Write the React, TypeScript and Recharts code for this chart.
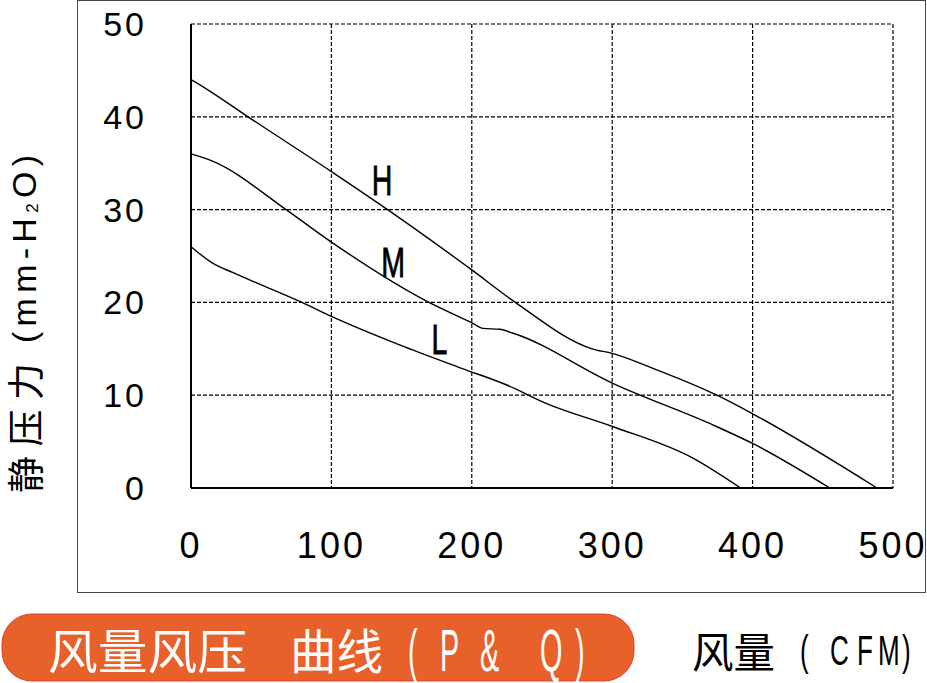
import React from "react";
import { LineChart, Line, XAxis, YAxis, CartesianGrid, ReferenceDot } from "recharts";

// 风量 (CFM) vs 静压力 (mm-H2O)
const hCurve = [
  { cfm: 0, p: 44 },
  { cfm: 10, p: 43.1 },
  { cfm: 40.6, p: 40 },
  { cfm: 100, p: 34.1 },
  { cfm: 140, p: 30 },
  { cfm: 200, p: 23.5 },
  { cfm: 231, p: 20 },
  { cfm: 285.6, p: 15.0 },
  { cfm: 300, p: 14.5 },
  { cfm: 329, p: 12.9 },
  { cfm: 374.6, p: 10 },
  { cfm: 400, p: 8.0 },
  { cfm: 488.6, p: 0 },
];

const mCurve = [
  { cfm: 0, p: 36 },
  { cfm: 15.7, p: 35.2 },
  { cfm: 67.7, p: 30 },
  { cfm: 100, p: 26.5 },
  { cfm: 169.5, p: 20 },
  { cfm: 200, p: 17.8 },
  { cfm: 208, p: 17.2 },
  { cfm: 220, p: 17.1 },
  { cfm: 229, p: 16.7 },
  { cfm: 300, p: 11.3 },
  { cfm: 374.6, p: 6.6 },
  { cfm: 400, p: 4.8 },
  { cfm: 455, p: 0 },
];

const lCurve = [
  { cfm: 0, p: 26 },
  { cfm: 15.7, p: 24.2 },
  { cfm: 30, p: 23.2 },
  { cfm: 79, p: 20 },
  { cfm: 100, p: 18.5 },
  { cfm: 149, p: 15.4 },
  { cfm: 192.8, p: 12.9 },
  { cfm: 224.9, p: 11.1 },
  { cfm: 253.3, p: 9.1 },
  { cfm: 300.8, p: 6.6 },
  { cfm: 357.8, p: 3.2 },
  { cfm: 391.5, p: 0 },
];

const xTicks = [0, 100, 200, 300, 400, 500];
const yTicks = [0, 10, 20, 30, 40, 50];

// curve names and where they sit
const curveLabels = [
  { name: "H", cfm: 136, p: 33.2 },
  { name: "M", cfm: 144, p: 24.3 },
  { name: "L", cfm: 177, p: 16 },
];

const latin = "'Liberation Sans', Arial, sans-serif";
const cjk = "'Noto Sans CJK SC', sans-serif";

// the sheet uses a narrow face for latin letters, so squeeze them
const pillLatin: [string, number][] = [
  ["(", 408],
  ["P", 440],
  ["&", 480],
  ["Q", 540],
  [")", 575],
];
const unitLatin: [string, number][] = [
  ["(", 800],
  ["C", 830],
  ["F", 857],
  ["M", 878],
  [")", 902],
];

const Narrow = ({ chars, y, size, sx, fill }: { chars: [string, number][]; y: number; size: number; sx: number; fill: string }) => (
  <g>
    {chars.map(([c, x], i) => (
      <text
        key={i}
        transform={`translate(${x},${y}) scale(${sx},1)`}
        fontFamily={latin}
        fontSize={size}
        fill={fill}
        dominantBaseline="central"
      >
        {c}
      </text>
    ))}
  </g>
);

const labelText = (name: string) => (p: any) => (
  <text
    transform={`translate(${p.cx},${p.cy}) scale(0.68,1)`}
    textAnchor="middle"
    dominantBaseline="central"
    fontFamily={latin}
    fontSize={42}
    stroke="#000"
    strokeWidth={0.8}
    fill="#000"
  >
    {name}
  </text>
);

export default function App() {
  return (
    <div style={{ position: "absolute", left: 0, top: 0, width: 927, height: 683, background: "#fff" }}>
      {/* outer frame */}
      <div
        style={{
          position: "absolute",
          left: 77,
          top: 0,
          width: 847,
          height: 591,
          border: "1.5px solid #444",
        }}
      />

      <div style={{ position: "absolute", left: 0, top: 0 }}>
        <LineChart width={927} height={600} margin={{ top: 24, right: 34, left: 0, bottom: 12 }}>
          <CartesianGrid stroke="#000" strokeDasharray="4 2" strokeWidth={1.2} />
          <XAxis
            type="number"
            dataKey="cfm"
            domain={[0, 500]}
            ticks={xTicks}
            height={100}
            tickSize={0}
            tickMargin={44}
            axisLine={{ stroke: "#000", strokeWidth: 2 }}
            tick={{ fill: "#000", fontSize: 36, fontFamily: latin, letterSpacing: 3 }}
          />
          <YAxis
            type="number"
            dataKey="p"
            domain={[0, 50]}
            ticks={yTicks}
            width={191}
            tickSize={0}
            tickMargin={44}
            axisLine={{ stroke: "#000", strokeWidth: 2 }}
            tick={{ fill: "#000", fontSize: 34, fontFamily: latin, letterSpacing: 3 }}
          />
          <Line data={hCurve} dataKey="p" type="monotone" stroke="#000" strokeWidth={1.4} dot={false} isAnimationActive={false} />
          <Line data={mCurve} dataKey="p" type="monotone" stroke="#000" strokeWidth={1.4} dot={false} isAnimationActive={false} />
          <Line data={lCurve} dataKey="p" type="monotone" stroke="#000" strokeWidth={1.4} dot={false} isAnimationActive={false} />
          {curveLabels.map((c) => (
            <ReferenceDot key={c.name} x={c.cfm} y={c.p} r={0} shape={labelText(c.name)} />
          ))}
        </LineChart>
      </div>

      {/* titles */}
      <svg width={927} height={683} style={{ position: "absolute", left: 0, top: 0 }}>
        <g transform="translate(24,493) rotate(-90)">
          <text x={0} y={0} fontFamily={cjk} fontSize={37} textLength={130} lengthAdjust="spacing" dominantBaseline="central" fill="#000">
            静压力
          </text>
          <text x={150} y={0} fontFamily={latin} fontSize={34} textLength={188} lengthAdjust="spacing" dominantBaseline="central" fill="#000">
            (mm-H
            <tspan fontSize={17} dy={8}>2</tspan>
            <tspan dy={-8}>O)</tspan>
          </text>
        </g>

        <rect x={2} y={614} width={632} height={67} rx={30} fill="#E8612A" stroke="#D8452A" strokeWidth={1} />
        <text x={48} y={648} fontFamily={cjk} fontSize={48} textLength={199} lengthAdjust="spacingAndGlyphs" dominantBaseline="central" fill="#fff">
          风量风压
        </text>
        <text x={290} y={648} fontFamily={cjk} fontSize={48} textLength={93} lengthAdjust="spacingAndGlyphs" dominantBaseline="central" fill="#fff">
          曲线
        </text>
        <Narrow chars={pillLatin} y={650} size={60} sx={0.48} fill="#fff" />

        <text x={692} y={649} fontFamily={cjk} fontSize={42} textLength={83} lengthAdjust="spacingAndGlyphs" dominantBaseline="central" fill="#000">
          风量
        </text>
        <Narrow chars={unitLatin} y={650} size={42} sx={0.62} fill="#000" />
      </svg>
    </div>
  );
}
